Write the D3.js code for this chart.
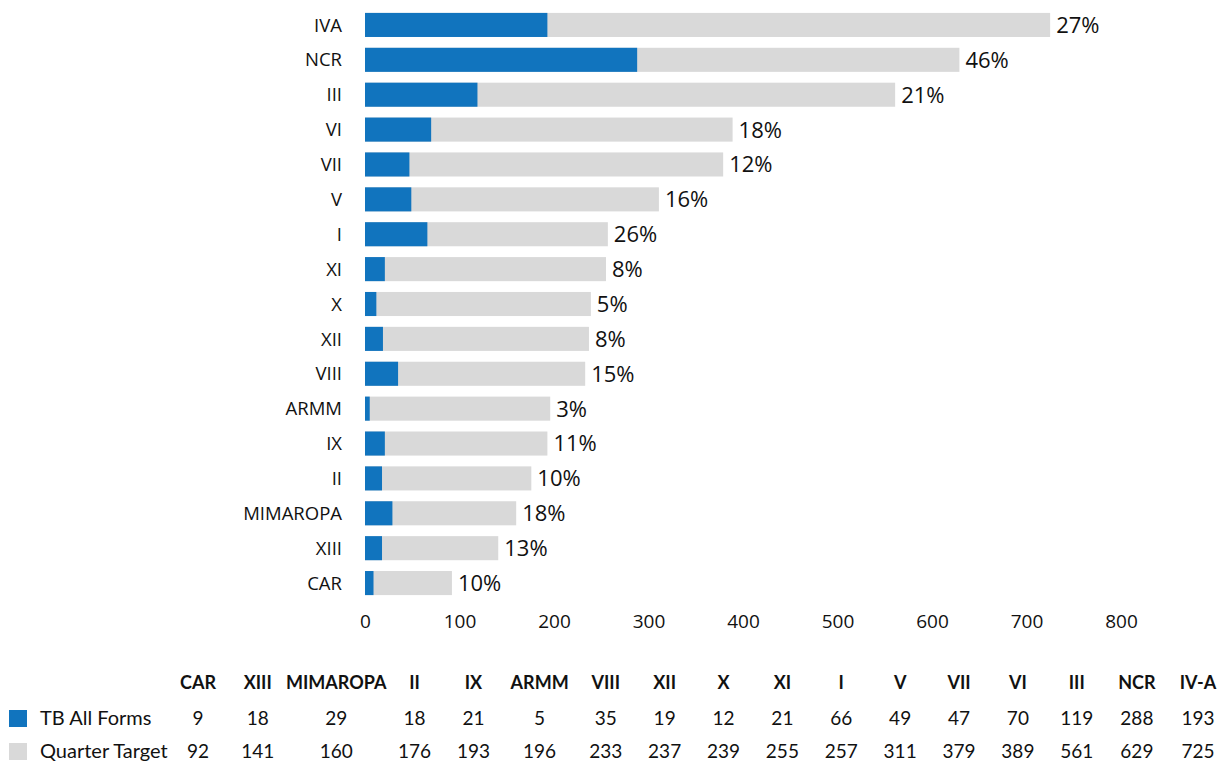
<!DOCTYPE html>
<html>
<head>
<meta charset="utf-8">
<script src="https://cdn.jsdelivr.net/npm/d3@7"></script>
<style>
  html, body { margin: 0; padding: 0; background: #fff; }
  svg { display: block; }
</style>
</head>
<body>
<svg id="chart" width="1218" height="762"></svg>
<script>
// ---- data (top-to-bottom order of the bar chart) ----
const regions = ["IVA", "NCR", "III", "VI", "VII", "V", "I", "XI", "X", "XII", "VIII", "ARMM", "IX", "II", "MIMAROPA", "XIII", "CAR"];
const tbAllForms = [193, 288, 119, 70, 47, 49, 66, 21, 12, 19, 35, 5, 21, 18, 29, 18, 9];
const quarterTarget = [725, 629, 561, 389, 379, 311, 257, 255, 239, 237, 233, 196, 193, 176, 160, 141, 92];
const pctLabels = ["27%", "46%", "21%", "18%", "12%", "16%", "26%", "8%", "5%", "8%", "15%", "3%", "11%", "10%", "18%", "13%", "10%"];
const xTicks = [0, 100, 200, 300, 400, 500, 600, 700, 800];

// data table (left-to-right order)
const tableHeaders = ["CAR", "XIII", "MIMAROPA", "II", "IX", "ARMM", "VIII", "XII", "X", "XI", "I", "V", "VII", "VI", "III", "NCR", "IV-A"];
const tableTB = [9, 18, 29, 18, 21, 5, 35, 19, 12, 21, 66, 49, 47, 70, 119, 288, 193];
const tableTarget = [92, 141, 160, 176, 193, 196, 233, 237, 239, 255, 257, 311, 379, 389, 561, 629, 725];
const seriesNames = ["TB All Forms", "Quarter Target"];

const BLUE = "#1174BE";
const GREY = "#D9D9D9";
const FONT = "'Open Sans', 'Noto Sans', sans-serif";
const TFONT = "Lato, 'Open Sans', sans-serif";

const svg = d3.select("#chart");

const x = d3.scaleLinear().domain([0, 800]).range([365, 1121]);
const y = d3.scaleBand().domain(regions).range([7.5, 600.5]).paddingInner(0.31).paddingOuter(0.155);

const rows = regions.map((r, i) => ({ r, tb: tbAllForms[i], target: quarterTarget[i], pct: pctLabels[i] }));

const g = svg.append("g");

// grey target bars
g.selectAll("rect.target").data(rows).join("rect")
  .attr("class", "target")
  .attr("x", x(0))
  .attr("y", d => y(d.r))
  .attr("width", d => x(d.target) - x(0))
  .attr("height", y.bandwidth())
  .attr("fill", GREY);

// blue actual bars (overlaid)
g.selectAll("rect.tb").data(rows).join("rect")
  .attr("class", "tb")
  .attr("x", x(0))
  .attr("y", d => y(d.r))
  .attr("width", d => x(d.tb) - x(0))
  .attr("height", y.bandwidth())
  .attr("fill", BLUE);

// percent labels
g.selectAll("text.pct").data(rows).join("text")
  .attr("class", "pct")
  .attr("x", d => x(d.target) + 6)
  .attr("y", d => y(d.r) + y.bandwidth() / 2)
  .attr("dy", "0.36em")
  .attr("font-family", FONT)
  .attr("font-size", 22)
  .attr("fill", "#111")
  .text(d => d.pct);

// category axis
const yAxis = d3.axisLeft(y).tickSize(0).tickPadding(0);
const ya = svg.append("g").attr("transform", "translate(342,0)").call(yAxis);
ya.select(".domain").remove();
ya.selectAll("text").attr("font-family", FONT).attr("font-size", 18.5).attr("fill", "#111").attr("dy", "0.36em");

// value axis
const xAxis = d3.axisBottom(x).tickValues(xTicks).tickSize(0).tickPadding(0);
const xa = svg.append("g").attr("transform", "translate(0,614)").call(xAxis);
xa.select(".domain").remove();
xa.selectAll("text").attr("font-family", FONT).attr("font-size", 19).attr("fill", "#111").attr("dy", "0.71em");

// ---- data table ----
const tbl = svg.append("g");
const meas = svg.append("g").attr("opacity", 0);
function tw(t, size, weight) {
  const n = meas.append("text").attr("font-family", TFONT).attr("font-size", size).attr("font-weight", weight).text(t);
  const w = n.node().getComputedTextLength();
  n.remove();
  return w;
}
const HDR = 18, VAL = 19;
const colW = tableHeaders.map((h, i) => Math.max(tw(h, HDR, "bold"), tw(String(tableTB[i]), VAL, "normal"), tw(String(tableTarget[i]), VAL, "normal")));
const firstC = 198, lastC = 1198, K = 0.58;
let sumHalf = 0;
for (let i = 0; i < colW.length - 1; i++) sumHalf += K * (colW[i] + colW[i + 1]) / 2;
const gap = (lastC - firstC - sumHalf) / (colW.length - 1);
const centers = [firstC];
for (let i = 1; i < colW.length; i++) centers.push(centers[i - 1] + K * (colW[i - 1] + colW[i]) / 2 + gap);
meas.remove();

const colScale = d3.scaleOrdinal().domain(tableHeaders).range(centers);

tbl.selectAll("text.hdr").data(tableHeaders).join("text")
  .attr("class", "hdr")
  .attr("x", d => colScale(d))
  .attr("y", 689)
  .attr("text-anchor", "middle")
  .attr("font-family", TFONT)
  .attr("font-size", HDR)
  .attr("font-weight", "bold")
  .attr("fill", "#111")
  .text(d => d);

const tableRows = [
  { name: seriesNames[0], vals: tableTB, color: BLUE, base: 725 },
  { name: seriesNames[1], vals: tableTarget, color: GREY, base: 758 }
];

tableRows.forEach(row => {
  tbl.append("rect")
    .attr("x", 9).attr("y", row.base - 15)
    .attr("width", 18).attr("height", 17)
    .attr("fill", row.color);
  tbl.append("text")
    .attr("x", 40).attr("y", row.base)
    .attr("font-family", TFONT).attr("font-size", 20).attr("fill", "#111")
    .text(row.name);
  tbl.selectAll(null).data(row.vals).join("text")
    .attr("x", (d, i) => colScale(tableHeaders[i]))
    .attr("y", row.base)
    .attr("text-anchor", "middle")
    .attr("font-family", TFONT).attr("font-size", VAL).attr("fill", "#111")
    .text(d => d);
});
</script>
</body>
</html>
